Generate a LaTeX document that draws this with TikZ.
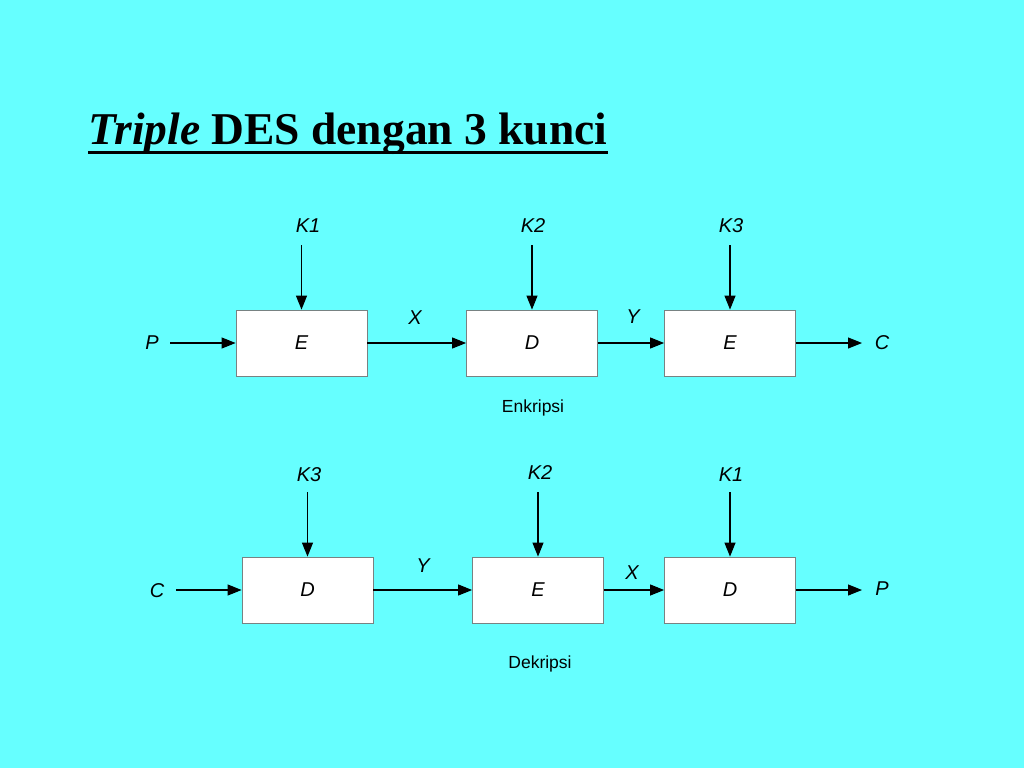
\documentclass[tikz,border=0pt]{standalone}
\usepackage{fontspec}
\setmainfont{Liberation Serif}
\setsansfont{Liberation Sans}
\usetikzlibrary{arrows.meta}

\definecolor{bgcyan}{RGB}{102,255,255}
\definecolor{boxline}{RGB}{120,130,130}

\tikzset{
  blok/.style={draw=boxline, fill=white, line width=0.8pt, minimum width=131pt, minimum height=66pt, inner sep=0pt, font=\sffamily\itshape\fontsize{20}{20}\selectfont},
  lbl/.style={inner sep=0pt, font=\sffamily\itshape\fontsize{20}{20}\selectfont},
  ket/.style={inner sep=0pt, font=\sffamily\fontsize{17.5}{17.5}\selectfont},
  panah/.style={line width=1.1pt, -{Triangle[length=14pt,width=11pt]}}
}

\begin{document}
\begin{tikzpicture}[x=1pt,y=-1pt]

%% background
\fill[bgcyan] (0,0) rectangle (1024,768);
\useasboundingbox (0,0) rectangle (1024,768);

%% title
\node[anchor=base west, inner sep=0pt, font=\bfseries\fontsize{45.5}{45.5}\selectfont] (judul) at (88,144) {\textit{Triple} DES dengan 3 kunci};
\draw[line width=3pt] (judul.base west) ++(0,8) -- ([yshift=-8pt]judul.base east);

%%% enkripsi
\node[blok] (e1) at (301.5,343) {E};
\node[blok] (d1) at (532,343) {D};
\node[blok] (e2) at (730,343) {E};

\node[lbl] (p1) at (152,343) {P};
\node[lbl] (c1) at (882,343) {C};
\node[lbl] (x1) at (415,318) {X};
\node[lbl] (y1) at (633,317) {Y};
\node[lbl] (k1a) at (308,226) {K1};
\node[lbl] (k2a) at (533,226) {K2};
\node[lbl] (k3a) at (731,226) {K3};
\coordinate (ka1) at (301.5,245);
\coordinate (ka2) at (532,245);
\coordinate (ka3) at (730,245);
\coordinate (inp) at (170,343);
\coordinate (outc) at (862,343);
\node[ket] (enk) at (533,408) {Enkripsi};

\draw[panah] (inp) -- (e1.west);
\draw[panah] (e1) -- (d1);
\draw[panah] (d1) -- (e2);
\draw[panah] (e2) -- (outc);
\draw[panah] (ka1) -- (e1.north);
\draw[panah] (ka2) -- (d1.north);
\draw[panah] (ka3) -- (e2.north);

%%% dekripsi
\node[blok] (d2) at (307.5,590) {D};
\node[blok] (e3) at (538,590) {E};
\node[blok] (d3) at (730,590) {D};

\node[lbl] (c2) at (157,591) {C};
\node[lbl] (p2) at (882,589) {P};
\node[lbl] (y2) at (423,566) {Y};
\node[lbl] (x2) at (632,573) {X};
\node[lbl] (k3b) at (309,475) {K3};
\node[lbl] (k2b) at (540,473) {K2};
\node[lbl] (k1b) at (731,475) {K1};
\coordinate (kb1) at (307.5,492);
\coordinate (kb2) at (538,492);
\coordinate (kb3) at (730,492);
\coordinate (inc) at (176,590);
\coordinate (outp) at (862,590);
\node[ket] (dek) at (540,664) {Dekripsi};

\draw[panah] (inc) -- (d2.west);
\draw[panah] (d2) -- (e3);
\draw[panah] (e3) -- (d3);
\draw[panah] (d3) -- (outp);
\draw[panah] (kb1) -- (d2.north);
\draw[panah] (kb2) -- (e3.north);
\draw[panah] (kb3) -- (d3.north);

\end{tikzpicture}
\end{document}
